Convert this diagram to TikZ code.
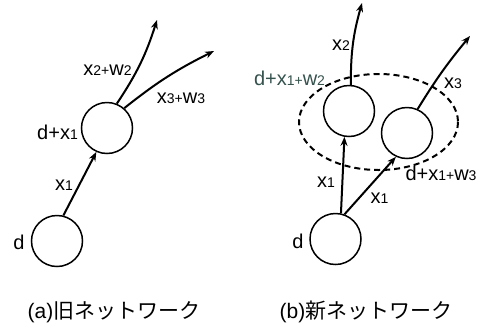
\documentclass[tikz,border=0pt]{standalone}
\usepackage{fontspec}
\setmainfont{Liberation Sans}
\newfontfamily\jpfont{Noto Sans CJK JP}
\usetikzlibrary{arrows.meta}
\newcommand{\smallsub}[1]{{\fontsize{14}{14}\selectfont #1}}
\definecolor{slate}{HTML}{35524D}
\begin{document}
\begin{tikzpicture}[x=1pt,y=-1pt,
  neuron/.style={circle,draw,line width=1.5pt,minimum size=51pt,inner sep=0pt},
  conn/.style={line width=2pt,-{Stealth[length=9pt,width=7pt]}},
  lbl/.style={font=\fontsize{20}{20}\selectfont,anchor=base,inner sep=0pt},
  captext/.style={font=\fontsize{21}{21}\selectfont,anchor=base,inner sep=0pt},
  grp/.style={draw,line width=2pt,dash pattern=on 6pt off 4pt}]
\useasboundingbox (0,0) rectangle (490,330);
% (a) old network
\node[neuron] (ad) at (57,241) {};
\node[neuron] (ah) at (107,128) {};
\coordinate (ae2) at (157,20);
\coordinate (ae3) at (214,51);
\draw[conn] (ad.76) -- (ah.246);
\draw[conn] (ah.68) to[bend right=8] (ae2);
\draw[conn] (ah.49) to[bend left=6] (ae3);
\node[lbl] (ald) at (19,249) {d};
\node[lbl] (alh) at (57.5,139) {d+x\smallsub{1}};
\node[lbl] (alx) at (64,190) {x\smallsub{1}};
\node[lbl] (al2) at (107.5,75) {x\smallsub{2+}w\smallsub{2}};
\node[lbl] (al3) at (181,103) {x\smallsub{3+}w\smallsub{3}};
% (b) new network
\node[neuron] (bd) at (335.5,239) {};
\node[neuron] (bh2) at (349,111) {};
\node[neuron] (bh3) at (407,133) {};
\draw[grp] (378.5,122) ellipse [x radius=79.5, y radius=48];
\coordinate (be2) at (362,3);
\coordinate (be3) at (470,36);
\draw[conn] (bd.78) -- (bh2.260);
\draw[conn] (bd.70) -- (bh3.245);
\draw[conn] (bh2.86) to[bend left=8] (be2);
\draw[conn] (bh3.66) to[bend left=4] (be3);
\node[lbl] (bld) at (298,248) {d};
\node[lbl] (blx1) at (326,187) {x\smallsub{1}};
\node[lbl] (blx2) at (379.5,203) {x\smallsub{1}};
\node[lbl] (bl2) at (341,50) {x\smallsub{2}};
\node[lbl] (bl3) at (453,88) {x\smallsub{3}};
\node[lbl,text=slate] (blh2) at (289.5,85) {d+x\smallsub{1+}w\smallsub{2}};
\node[lbl] (blh3) at (441,180) {d+x\smallsub{1+}w\smallsub{3}};
% captions
\node[captext] (capa) at (114,318) {(a){\jpfont 旧ネットワーク}};
\node[captext] (capb) at (366,318) {(b){\jpfont 新ネットワーク}};
\end{tikzpicture}
\end{document}
